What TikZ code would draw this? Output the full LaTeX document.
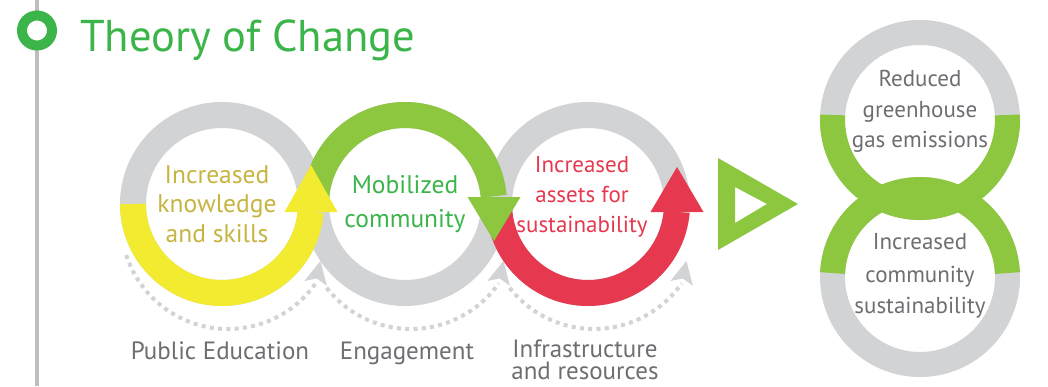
\documentclass[tikz,border=0pt]{standalone}
\usepackage{fontspec}
\setmainfont{PT Sans}
\usetikzlibrary{calc}
\definecolor{ringgray}{HTML}{D1D3D4}
\definecolor{linegray}{HTML}{BCBEC0}
\definecolor{leaf}{HTML}{8DC63F}
\definecolor{sun}{HTML}{F2EB30}
\definecolor{berry}{HTML}{E6384F}
\definecolor{titlegreen}{HTML}{3BB54A}
\definecolor{olive}{HTML}{C6B441}
\definecolor{textgray}{HTML}{6D6E71}
\begin{document}
\begin{tikzpicture}[x=1pt,y=1pt,
  ring/.style={draw=ringgray, line width=26pt},
  band/.style={line width=26pt},
  dotarc/.style={draw=ringgray, line width=4pt, dash pattern=on 4pt off 4.3pt},
  txt/.style={anchor=base, inner sep=0pt, font=\fontsize{23}{28}\selectfont},
  bigtxt/.style={anchor=base, inner sep=0pt, font=\fontsize{25.5}{30}\selectfont},
  steplabel/.style={anchor=base, inner sep=0pt, text depth=0pt, text=textgray, font=\fontsize{25}{28}\selectfont},
  tiphead/.pic={\fill[ringgray] (0,23) -- (-11.5,0) -- (0,5) -- (11.5,0) -- cycle;}
]
\useasboundingbox (0,0) rectangle (1048,386);

% timeline with its marker and the heading
\draw[linegray, line width=3.5pt] (37,0) -- (37,386);
\node[circle, draw=titlegreen, line width=10pt, fill=white, minimum size=30pt, inner sep=0pt] (marker) at (37,355.5) {};
\node[anchor=base west, inner sep=0pt, text=titlegreen, font=\fontsize{44.5}{50}\selectfont] (title) at (80,334) {Theory of Change};

% centres of the three cycle rings
\coordinate (cA) at (222,182);
\coordinate (cB) at (405,182);
\coordinate (cC) at (588,182);

% dotted return arcs under each ring
\draw[dotarc] ($(cA)+(6,-18)+(198:107)$) arc[start angle=198, end angle=325, radius=107];
\pic[rotate=-12] at ($(cA)+(6,-18)+(325:107)$) {tiphead};
\draw[dotarc] ($(cB)+(6,-18)+(218:107)$) arc[start angle=218, end angle=325, radius=107];
\pic[rotate=-12] at ($(cB)+(6,-18)+(325:107)$) {tiphead};
\draw[dotarc] ($(cC)+(6,-18)+(218:107)$) arc[start angle=218, end angle=325, radius=107];
\pic[rotate=-12] at ($(cC)+(6,-18)+(325:107)$) {tiphead};

% grey rings
\draw[ring] (cA) circle[radius=89];
\draw[ring] (cB) circle[radius=89];
\draw[ring] (cC) circle[radius=89];

% red arrow: lower half of the right ring
\draw[berry, band] ($(cC)+(180:89)$) arc[start angle=180, end angle=355, radius=89];
\fill[berry] ($(cC)+(62.5,-8)$) -- ($(cC)+(115.5,-8)$) -- ($(cC)+(89,37)$) -- cycle;

% green arrow: upper half of the middle ring
\draw[leaf, band] ($(cB)+(180:89)$) arc[start angle=180, end angle=5, radius=89];
\fill[leaf] ($(cB)+(62.5,7)$) -- ($(cB)+(115.5,7)$) -- ($(cB)+(89,-37)$) -- cycle;

% yellow arrow: lower half of the left ring
\draw[sun, band] ($(cA)+(180:89)$) arc[start angle=180, end angle=355, radius=89];
\fill[sun] ($(cA)+(62.5,-8)$) -- ($(cA)+(115.5,-8)$) -- ($(cA)+(89,39)$) -- cycle;

% texts inside the cycle rings
\node[bigtxt, text=olive] (a1) at (217,203) {Increased};
\node[bigtxt, text=olive] (a2) at (217,174) {knowledge};
\node[bigtxt, text=olive] (a3) at (217,144) {and skills};
\node[bigtxt, text=titlegreen] (b1) at (405,193) {Mobilized};
\node[bigtxt, text=titlegreen] (b2) at (405,159) {community};
\node[txt, text=berry] (c1) at (582,214) {Increased};
\node[txt, text=berry] (c2) at (582,184) {assets for};
\node[txt, text=berry] (c3) at (582,154) {sustainability};

% labels under the cycle
\node[steplabel] (l1) at (220,27) {Public Education};
\node[steplabel] (l2) at (407,27) {Engagement};
\node[steplabel] (l3) at (585,29) {Infrastructure};
\node[steplabel] (l4) at (585,7) {and resources};

% outlined play triangle
\fill[leaf, even odd rule] (718,228) -- (718,136) -- (798,182) -- cycle
  (735,199) -- (735,163) -- (767,182) -- cycle;

% outcome rings linked by a green band
\coordinate (cD) at (920,266);
\coordinate (cE) at (920,109);
\draw[ring, line width=25pt] (cD) circle[radius=87.5];
\draw[ring, line width=25pt] (cE) circle[radius=87.5];
\draw[leaf, line width=25pt] ($(cD)+(176.7:87.5)$) arc[start angle=176.7, end angle=363.3, radius=87.5];
\draw[leaf, line width=25pt] ($(cE)+(2.6:87.5)$) arc[start angle=2.6, end angle=177.4, radius=87.5];

\node[txt, text=textgray] (d1) at (920,299) {Reduced};
\node[txt, text=textgray] (d2) at (920,268) {greenhouse};
\node[txt, text=textgray] (d3) at (920,238) {gas emissions};
\node[txt, text=textgray] (e1) at (920,137) {Increased};
\node[txt, text=textgray] (e2) at (920,104) {community};
\node[txt, text=textgray] (e3) at (920,73) {sustainability};
\end{tikzpicture}
\end{document}
